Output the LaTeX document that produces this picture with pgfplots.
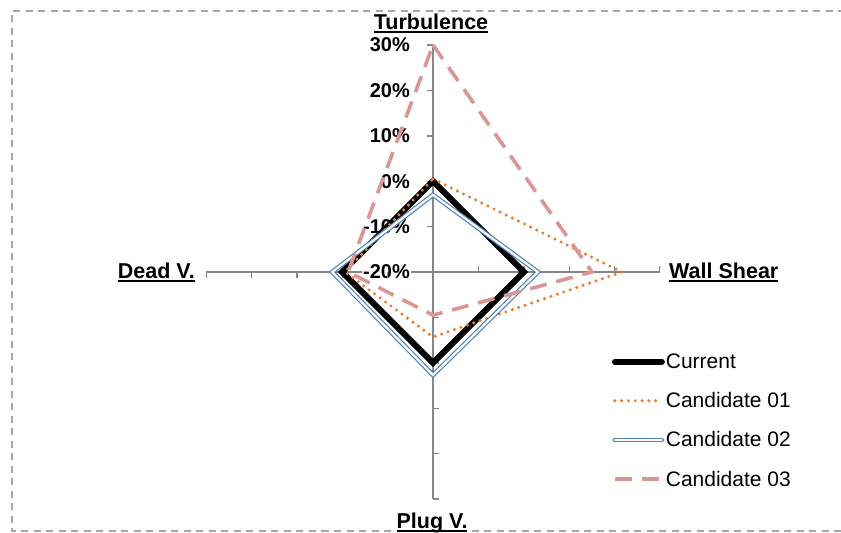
\documentclass[border=0pt]{standalone}
\usepackage{pgfplots}
\pgfplotsset{compat=1.18}
\usepackage{fontspec}
\setmainfont{Liberation Sans}

\definecolor{axisgrey}{RGB}{134,134,134}
\definecolor{bordergrey}{RGB}{166,166,166}
\definecolor{c1orange}{RGB}{232,125,47}
\definecolor{c2blue}{RGB}{79,129,189}
\definecolor{c3pink}{RGB}{217,150,148}

\newsavebox\ulbox
\newcommand\ul[1]{\sbox\ulbox{#1}\rlap{\rule[-4bp]{\wd\ulbox}{1.8bp}}\usebox\ulbox}
\newcommand\lab{\bfseries\fontsize{21.5bp}{25bp}\selectfont}

\begin{document}
\begin{tikzpicture}
% dashed chart border (right edge is outside the picture)
\draw[bordergrey, line width=1.3bp, dash pattern=on 7bp off 5.5bp]
  (845bp,-11bp) -- (12bp,-11bp) -- (12bp,-531bp) -- (845bp,-531bp);

\begin{axis}[
  at={(433bp,-272bp)}, anchor=origin,
  scale only axis, width=454bp, height=454bp,
  xmin=-50, xmax=50, ymin=-50, ymax=50,
  axis lines=center,
  axis line style={-, draw=axisgrey, line width=1.4bp},
  hide obscured x ticks=false, hide obscured y ticks=false,
  xtick=\empty,
  ytick={0,10,20,30,40,50},
  yticklabels={-20\%,-10\%,0\%,10\%,20\%,30\%},
  major tick length=0pt,
  yticklabel style={font=\bfseries\fontsize{20bp}{24bp}\selectfont,
    anchor=east, inner sep=1bp, fill=white, xshift=-22bp},
  legend cell align=left,
  legend image code/.code={\draw[#1] (0bp,0bp) -- (47bp,0bp);},
  legend style={draw=none, fill=none, at={(0.887,0.327)}, anchor=north west,
    font=\fontsize{21bp}{25bp}\selectfont, row sep=20.5bp,
    nodes={inner sep=1bp}},
]
% tick marks, each half of each axis pointing its own way
\pgfplotsinvokeforeach{10,20,30,40,50}{
  \draw[axisgrey, line width=1.4bp] (axis cs:0,#1) -- (axis cs:-1.35,#1);
  \draw[axisgrey, line width=1.4bp] (axis cs:0,-#1) -- (axis cs:1.35,-#1);
  \draw[axisgrey, line width=1.4bp] (axis cs:#1,0) -- (axis cs:#1,1.35);
  \draw[axisgrey, line width=1.4bp] (axis cs:-#1,0) -- (axis cs:-#1,-1.35);
}

% radius = value + 20 (centre is -20%)
\addplot[black, line width=6bp, line join=miter, line cap=round]
  coordinates {(0,20) (20,0) (0,-20) (-20,0) (0,20) (20,0)};
\addlegendentry{Current}

\addplot[c1orange, line width=3.4bp, line cap=round, dash pattern=on 0bp off 6.8bp]
  coordinates {(0,20.5) (41.6,0) (0,-14.3) (-19.4,0) (0,20.5)};
\addlegendentry{Candidate 01}

\addplot[c2blue, line width=1.2bp, double=white, double distance=2.2bp,
  line join=miter, line cap=round]
  coordinates {(0,17) (23.1,0) (0,-22.7) (-22.2,0) (0,17) (23.1,0)};
\addlegendentry{Candidate 02}

\addplot[c3pink, line width=3.6bp, dash pattern=on 17bp off 10bp]
  coordinates {(0,50) (35,0) (0,-9.5) (-18.7,0) (0,50)};
\addlegendentry{Candidate 03}
\end{axis}

\node[anchor=base, font=\lab, inner sep=0pt] at (431bp,-29bp) {\ul{Turbulence}};
\node[anchor=base west, font=\lab, inner sep=0pt] at (669bp,-278bp) {\ul{Wall Shear}};
\node[anchor=base east, font=\lab, inner sep=0pt] at (195bp,-278bp) {\ul{Dead V.}};
\node[anchor=base, font=\lab, inner sep=0pt] at (432bp,-528bp) {\ul{Plug V.}};

\pgfresetboundingbox
\path[use as bounding box] (0,0) rectangle (841bp,-533bp);
\end{tikzpicture}
\end{document}
